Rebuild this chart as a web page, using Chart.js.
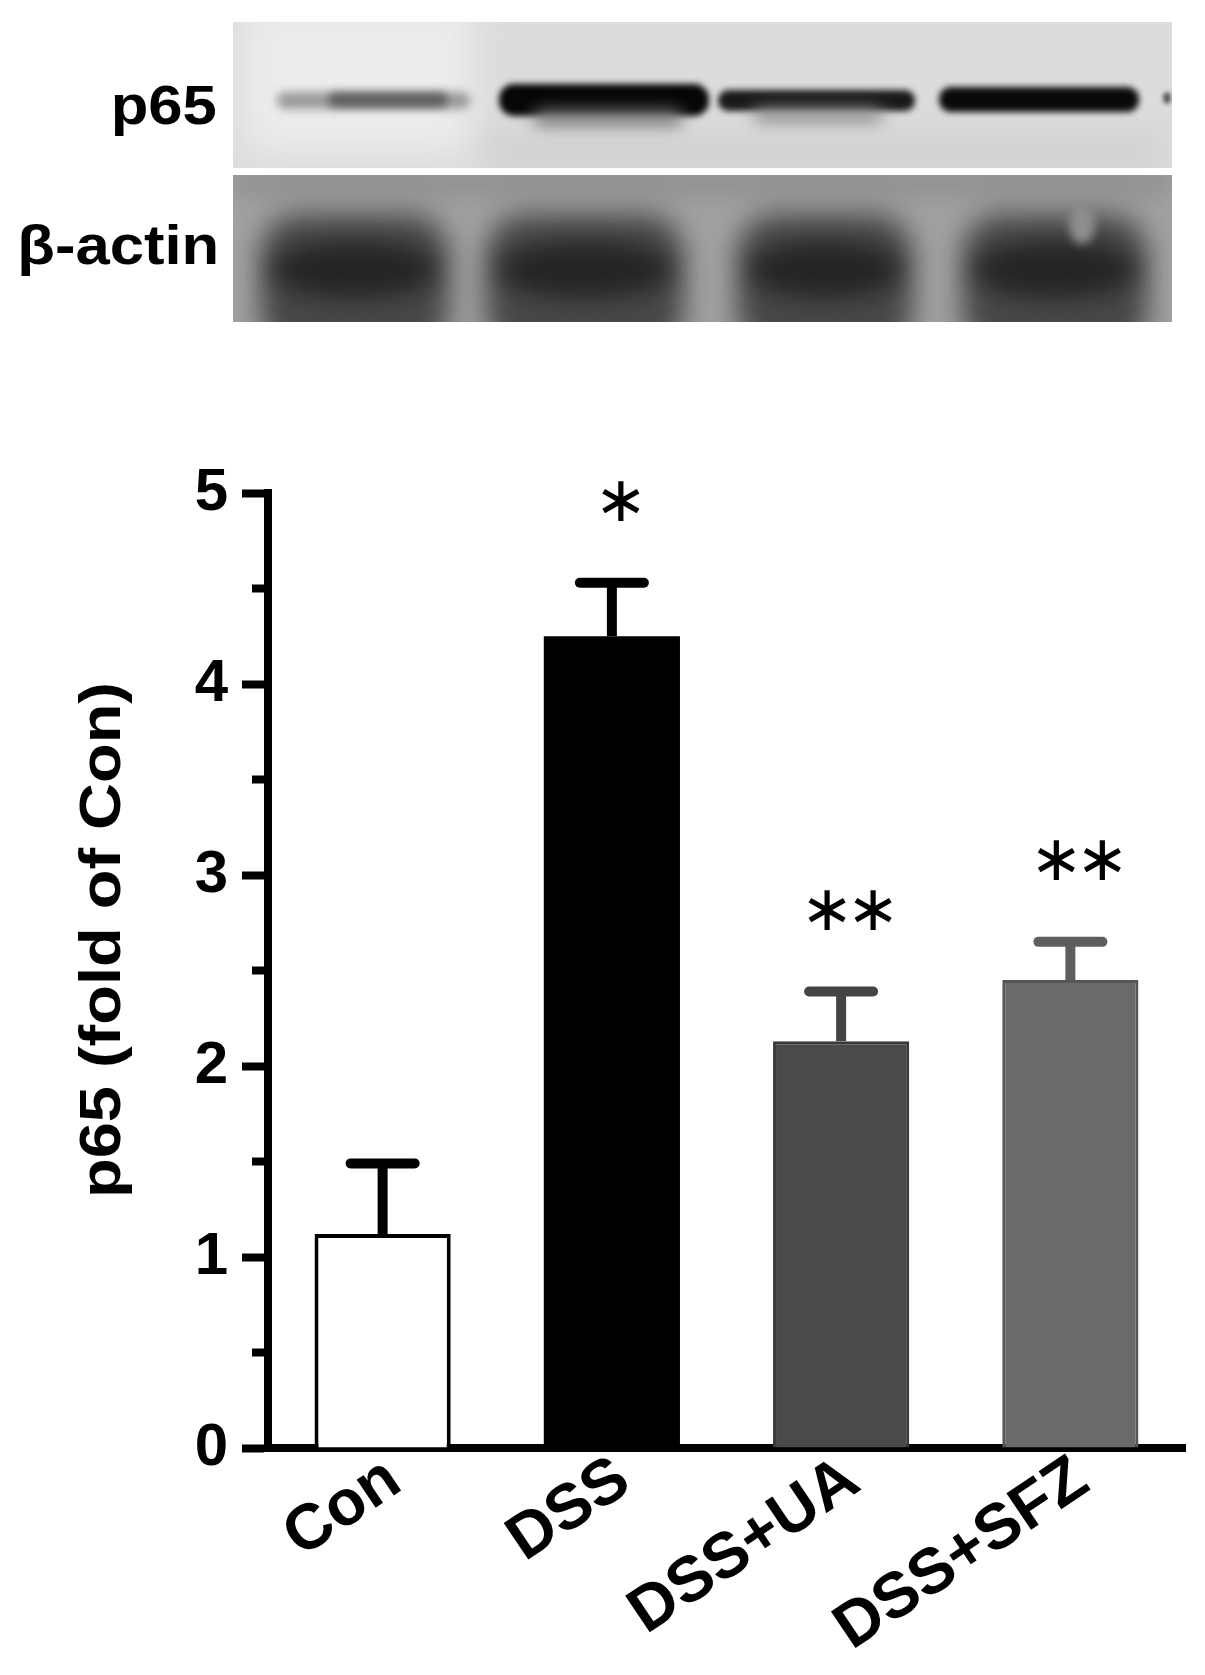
<!DOCTYPE html>
<html>
<head>
<meta charset="utf-8">
<script src="https://cdn.jsdelivr.net/npm/chart.js@4.4.1/dist/chart.umd.min.js"></script>
<style>
  html, body { margin: 0; padding: 0; background: #fff; }
  #wrap { position: relative; width: 1205px; height: 1675px; overflow: hidden; background: #fff; }
  #chart { position: absolute; left: 0; top: 0; }
  #blot { position: absolute; left: 233px; top: 22px; }
  .lbl {
    position: absolute;
    font-family: "Liberation Sans", Arial, sans-serif;
    font-weight: bold;
    color: #000;
    white-space: nowrap;
  }
  .blotLbl { font-size: 55px; line-height: 55px; transform-origin: 100% 50%; transform: scaleX(1.12); }
  #lblP65 { right: 988px; top: 78px; }
  #lblActin { right: 986px; top: 218px; }
  #yTitle {
    left: 100px; top: 940px;
    font-size: 58px; line-height: 58px;
    transform: translate(-50%, -50%) rotate(-90deg) scaleX(1.12);
  }
</style>
</head>
<body>
<div id="wrap">
  <canvas id="chart" width="1205" height="1675"></canvas>
  <canvas id="blot" width="939" height="300"></canvas>
  <div class="lbl blotLbl" id="lblP65">p65</div>
  <div class="lbl blotLbl" id="lblActin">β-actin</div>
  <div class="lbl" id="yTitle">p65 (fold of Con)</div>
</div>
<script>
// data
const categories = ['Con', 'DSS', 'DSS+UA', 'DSS+SFZ'];
const meanValues = [1.12, 4.25, 2.13, 2.45];
const semValues = [0.37, 0.28, 0.26, 0.20];
const sigMarks = ['', '*', '**', '**'];
const yTicks = [0, 1, 2, 3, 4, 5];

// styles
const barFill = ['#ffffff', '#000000', '#4a4a4a', '#6a6a6a'];
const barEdge = ['#000000', '#000000', '#3a3a3a', '#565656'];
const errColor = ['#000000', '#000000', '#444444', '#5e5e5e'];
const fontFamily = '"Liberation Sans", Arial, sans-serif';

// western blot picture (drawn, not a chart)
function drawBlot() {
  const c = document.getElementById('blot');
  const g = c.getContext('2d');
  const W = c.width;

  function soft(fn, blur, color) {
    g.save();
    g.filter = 'blur(' + blur + 'px)';
    g.fillStyle = color;
    g.beginPath();
    fn();
    g.fill();
    g.restore();
  }

  // upper panel (p65)
  g.save();
  g.beginPath(); g.rect(0, 0, W, 146); g.clip();
  g.fillStyle = '#dcdcdc'; g.fillRect(0, 0, W, 146);
  soft(() => g.rect(10, -20, 230, 150), 18, '#ececec');
  soft(() => g.rect(250, 110, 680, 40), 14, '#d2d2d2');
  soft(() => g.roundRect(44, 70, 193, 17, 8), 5, '#9a9a9a');
  soft(() => g.roundRect(95, 71, 120, 14, 7), 4, '#5e5e5e');
  soft(() => g.roundRect(266, 62, 210, 32, 15), 3, '#060606');
  soft(() => g.roundRect(300, 88, 150, 16, 8), 8, '#7a7a7a');
  soft(() => g.roundRect(485, 68, 197, 21, 10), 3, '#1a1a1a');
  soft(() => g.roundRect(520, 86, 130, 14, 7), 8, '#8a8a8a');
  soft(() => g.roundRect(706, 65, 200, 25, 12), 3, '#0a0a0a');
  soft(() => g.ellipse(934, 76, 4, 6, 0, 0, Math.PI * 2), 2, '#555555');
  g.restore();

  // separator
  g.fillStyle = '#ffffff'; g.fillRect(0, 146, W, 7);

  // lower panel (beta-actin)
  g.save();
  g.beginPath(); g.rect(0, 153, W, 147); g.clip();
  g.fillStyle = '#a2a2a2'; g.fillRect(0, 153, W, 147);
  soft(() => g.rect(0, 140, W, 36), 12, '#929292');
  const actin = [[27, 216], [253, 451], [504, 680], [729, 915]];
  actin.forEach(([a, b]) => {
    soft(() => g.roundRect(a, 192, b - a, 140, 40), 14, '#474747');
    soft(() => g.ellipse((a + b) / 2, 248, (b - a) / 2 - 12, 28, 0, 0, Math.PI * 2), 12, '#242424');
  });
  soft(() => g.ellipse(849, 202, 13, 20, 0, 0, Math.PI * 2), 5, '#8e8e8e');
  g.restore();
}

// error bars, significance marks and minor ticks, placed through the chart scales
const errorBars = {
  id: 'errorBars',
  afterDatasetsDraw(chart) {
    const { ctx, scales: { x, y }, chartArea } = chart;
    ctx.save();
    meanValues.forEach((v, i) => {
      const cx = x.getPixelForValue(i);
      const base = y.getPixelForValue(v);
      const top = y.getPixelForValue(v + semValues[i]);
      ctx.strokeStyle = errColor[i];
      ctx.lineWidth = 10;
      ctx.lineCap = 'butt';
      ctx.beginPath(); ctx.moveTo(cx, base); ctx.lineTo(cx, top); ctx.stroke();
      ctx.lineCap = 'round';
      ctx.beginPath(); ctx.moveTo(cx - 32, top); ctx.lineTo(cx + 32, top); ctx.stroke();

      // asterisks
      const n = sigMarks[i].length;
      if (n) {
        ctx.fillStyle = '#000';
        ctx.font = '100px "DejaVu Sans"';
        const m = ctx.measureText('\u2217');
        const inkH = m.actualBoundingBoxAscent + m.actualBoundingBoxDescent;
        const size = 100 * 40 / inkH;
        ctx.font = size + 'px "DejaVu Sans"';
        const mm = ctx.measureText('\u2217');
        const cy = top - 82;
        const yb = cy + (mm.actualBoundingBoxAscent - mm.actualBoundingBoxDescent) / 2;
        ctx.textAlign = 'center';
        ctx.textBaseline = 'alphabetic';
        for (let k = 0; k < n; k++) {
          const sx = cx + 9 + (k - (n - 1) / 2) * 46;
          ctx.fillText('\u2217', sx, yb);
        }
      }
    });

    // short minor ticks between labelled ticks
    ctx.strokeStyle = '#000';
    ctx.lineWidth = 8;
    ctx.lineCap = 'butt';
    for (let k = 0; k < yTicks.length - 1; k++) {
      const py = y.getPixelForValue((yTicks[k] + yTicks[k + 1]) / 2);
      ctx.beginPath(); ctx.moveTo(chartArea.left - 16, py); ctx.lineTo(chartArea.left, py); ctx.stroke();
    }
    ctx.restore();
  }
};

drawBlot();

const ctx = document.getElementById('chart').getContext('2d');
const p65Chart = new Chart(ctx, {
  type: 'bar',
  data: {
    labels: categories,
    datasets: [{
      data: meanValues,
      backgroundColor: barFill,
      borderColor: barEdge,
      borderWidth: [4, 0, 3, 3],
      borderSkipped: 'start',
      barPercentage: 0.594,
      categoryPercentage: 1.0
    }]
  },
  options: {
    responsive: false,
    animation: false,
    devicePixelRatio: 1,
    layout: { padding: { top: 493, right: 20, left: 0, bottom: 0 } },
    plugins: {
      legend: { display: false },
      tooltip: { enabled: false }
    },
    scales: {
      x: {
        grid: { display: false, drawTicks: false },
        border: { display: true, color: '#000', width: 8 },
        ticks: {
          color: '#000',
          font: { family: fontFamily, size: 64, weight: 'bold' },
          minRotation: 34,
          maxRotation: 34,
          autoSkip: false,
          labelOffset: 12,
          padding: -6
        },
        afterFit: (s) => { s.height = 227; }
      },
      y: {
        min: 0,
        max: 5,
        afterBuildTicks: (s) => { s.ticks = yTicks.map(v => ({ value: v })); },
        grid: { drawOnChartArea: false, drawTicks: true, tickLength: 26, tickWidth: 8, tickColor: '#000' },
        border: { display: true, color: '#000', width: 8 },
        ticks: {
          color: '#000',
          font: { family: fontFamily, size: 60, weight: 'bold' },
          padding: 14
        },
        afterFit: (s) => { s.width = 268; }
      }
    }
  },
  plugins: [errorBars]
});
</script>
</body>
</html>
